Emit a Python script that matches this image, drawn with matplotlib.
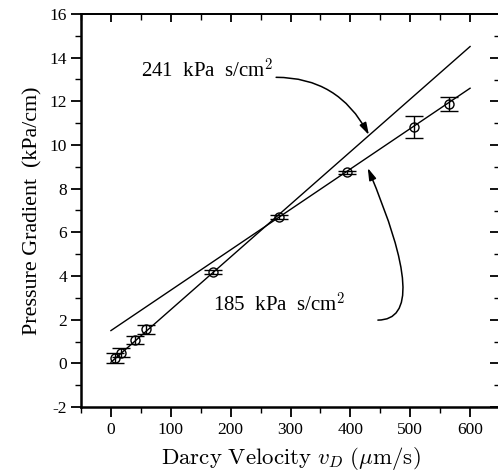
import matplotlib
matplotlib.use("Agg")
import matplotlib.pyplot as plt
import numpy as np
from matplotlib.ticker import MultipleLocator

plt.rcParams['font.family'] = ['Liberation Serif', 'DejaVu Serif']
plt.rcParams['mathtext.fontset'] = 'cm'
plt.rcParams['axes.unicode_minus'] = False

# data
velocity = [6.7, 16.7, 40, 58, 171, 281, 395, 506, 564]
gradient = [0.23, 0.49, 1.07, 1.56, 4.17, 6.71, 8.75, 10.81, 11.88]
grad_err = [0.23, 0.19, 0.19, 0.21, 0.10, 0.08, 0.07, 0.51, 0.31]

fit_x = [0, 600]
fit241_intercept, fit241_slope = 0.05, 0.0241
fit185_intercept, fit185_slope = 1.50, 0.0185

fig = plt.figure(figsize=(4.98, 4.73), dpi=100)
ax = fig.add_axes([81/498, 66/473, 419/498, 393/473])

ax.errorbar(velocity, gradient, yerr=grad_err, fmt='o', mfc='none', mec='black',
            ms=6.5, mew=1.0, ecolor='black', elinewidth=1.0, capsize=6.5,
            capthick=1.0, zorder=3)
fx = np.array(fit_x, dtype=float)
ax.plot(fx, fit241_intercept + fit241_slope*fx, color='black', lw=1.0)
ax.plot(fx, fit185_intercept + fit185_slope*fx, color='black', lw=1.0)

ax.set_xlim(-50, 650)
ax.set_ylim(-2, 16)
ax.xaxis.set_major_locator(MultipleLocator(100))
ax.xaxis.set_minor_locator(MultipleLocator(50))
ax.yaxis.set_major_locator(MultipleLocator(2))
ax.yaxis.set_minor_locator(MultipleLocator(1))
ax.set_xticks([0, 100, 200, 300, 400, 500, 600])
ax.tick_params(axis='both', which='major', direction='out', length=7, width=1.3,
               labelsize=12.5, top=False, right=False)
ax.tick_params(axis='both', which='minor', direction='out', length=4, width=1.0,
               top=False, right=False)
ax.tick_params(axis='y', which='major', pad=3)

for s in ['left', 'bottom']:
    ax.spines[s].set_linewidth(1.8)
ax.spines['top'].set_linewidth(1.3)
ax.spines['right'].set_visible(False)

top = ax.secondary_xaxis('top')
top.xaxis.set_major_locator(MultipleLocator(100))
top.xaxis.set_minor_locator(MultipleLocator(50))
top.tick_params(which='major', direction='in', length=6, width=1.3, labeltop=False)
top.tick_params(which='minor', direction='in', length=4, width=1.0)
top.spines['top'].set_linewidth(1.3)
right = ax.secondary_yaxis('right')
right.yaxis.set_major_locator(MultipleLocator(2))
right.yaxis.set_minor_locator(MultipleLocator(1))
right.tick_params(which='major', direction='in', length=7, width=1.3, labelright=False)
right.tick_params(which='minor', direction='in', length=4, width=1.0)
for sp in right.spines.values():
    sp.set_visible(False)

ax.set_xlabel(r'$\mathrm{Darcy\ Velocity}\ v_D\ (\mu\mathrm{m/s})$', fontsize=16.5, labelpad=5)
ax.set_ylabel('Pressure Gradient  (kPa/cm)', fontsize=15.8, labelpad=5)

ax.text(50, 13.4, r'241  kPa  s/cm$^2$', fontsize=15, va='center', ha='left')
ax.text(170, 2.67, r'185  kPa  s/cm$^2$', fontsize=15, va='center', ha='left')

ax.annotate('', xy=(431, 10.46), xytext=(276, 13.1),
            arrowprops=dict(arrowstyle='-|>,head_length=0.6,head_width=0.18',
                            connectionstyle='angle3,angleA=0,angleB=-62',
                            color='black', lw=1.1, shrinkA=0, shrinkB=0,
                            mutation_scale=12))
ax.annotate('', xy=(429, 8.95), xytext=(446, 1.98),
            arrowprops=dict(arrowstyle='-|>,head_length=0.6,head_width=0.18',
                            connectionstyle='angle3,angleA=0,angleB=-67',
                            color='black', lw=1.1, shrinkA=0, shrinkB=0,
                            mutation_scale=12))

fig.savefig('out.png', dpi=100)
